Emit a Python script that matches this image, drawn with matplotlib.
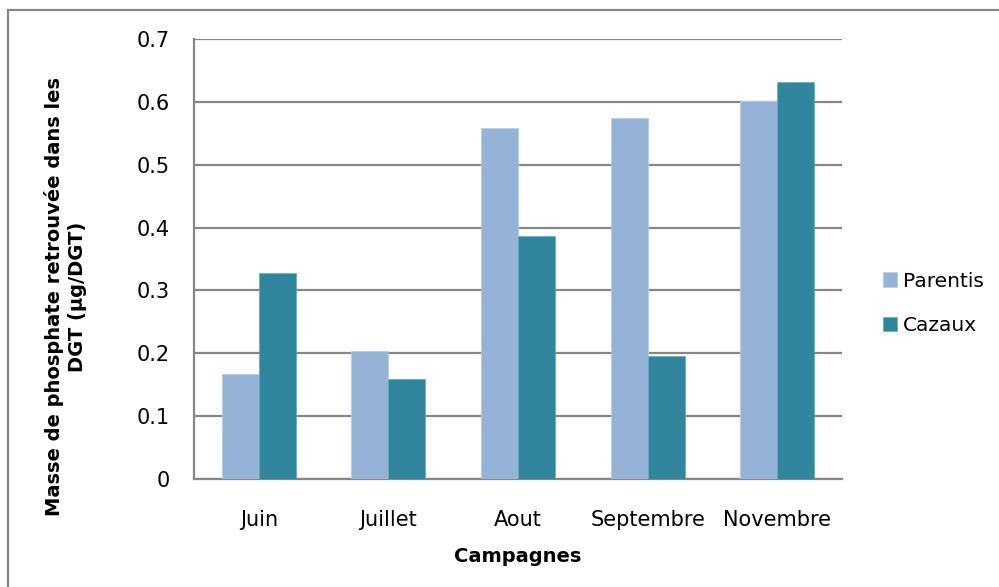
import matplotlib
matplotlib.use("Agg")
import matplotlib.pyplot as plt
import numpy as np
from matplotlib.patches import Rectangle

categories = ["Juin", "Juillet", "Aout", "Septembre", "Novembre"]
parentis = [0.167, 0.203, 0.559, 0.575, 0.601]
cazaux = [0.327, 0.159, 0.387, 0.196, 0.631]
yticks = [0, 0.1, 0.2, 0.3, 0.4, 0.5, 0.6, 0.7]
ytick_labels = ["0", "0.1", "0.2", "0.3", "0.4", "0.5", "0.6", "0.7"]

plt.rcParams['font.family'] = ['DejaVu Sans']

fig = plt.figure(figsize=(9.99, 5.87), dpi=100)
ax = fig.add_axes([194/999, 1 - 479/587, (842-194)/999, (479-39)/587])

x = np.arange(len(categories))
w = 1 / 3.5
ax.bar(x - w/2, parentis, w, color="#95B3D7", label="Parentis", zorder=3,
       edgecolor="#B9CDE5", linewidth=0.6)
ax.bar(x + w/2, cazaux, w, color="#31859C", label="Cazaux", zorder=3,
       edgecolor="#4BACC6", linewidth=0.4)

ax.set_xlim(-0.5, len(categories) - 0.5)
ax.set_ylim(0, 0.7)
ax.set_yticks(yticks)
ax.set_yticklabels(ytick_labels)
ax.set_xticks(x)
ax.set_xticklabels(categories)
ax.tick_params(axis='both', length=0, labelsize=15, colors="#000000")
ax.tick_params(axis='y', pad=17.5)
ax.tick_params(axis='x', pad=22.5)
ax.yaxis.grid(True, color="#868686", linewidth=1.6, zorder=0)
ax.set_axisbelow(True)
for s in ["top", "right"]:
    ax.spines[s].set_visible(False)
for s in ["left", "bottom"]:
    ax.spines[s].set_color("#868686")
    ax.spines[s].set_linewidth(1.6)

ax.set_xlabel("Campagnes", fontsize=14, fontweight="bold")
ax.xaxis.set_label_coords(0.5, -(557 - 479) / 440, transform=ax.transAxes)
ax.xaxis.label.set_va("center")
ax.set_ylabel("Masse de phosphate retrouvée dans les\nDGT (µg/DGT)", fontsize=14,
              fontweight="bold", linespacing=1.3)
ax.yaxis.set_label_coords(-(194 - 65.5) / 648, (479 - 297) / 440, transform=ax.transAxes)
ax.yaxis.label.set_va("center")

leg = ax.legend(loc="center left", bbox_to_anchor=(1.063, 0.399), frameon=False,
                fontsize=14.5, handlelength=0.7, handleheight=0.7,
                handletextpad=0.3, labelspacing=1.28, borderaxespad=0, borderpad=0)

fig.patches.append(Rectangle((8/999, -1), 2, 2 - 10/587,
                             transform=fig.transFigure, fill=False,
                             edgecolor="#868686", linewidth=1.6))

fig.savefig("out.png", dpi=100)
